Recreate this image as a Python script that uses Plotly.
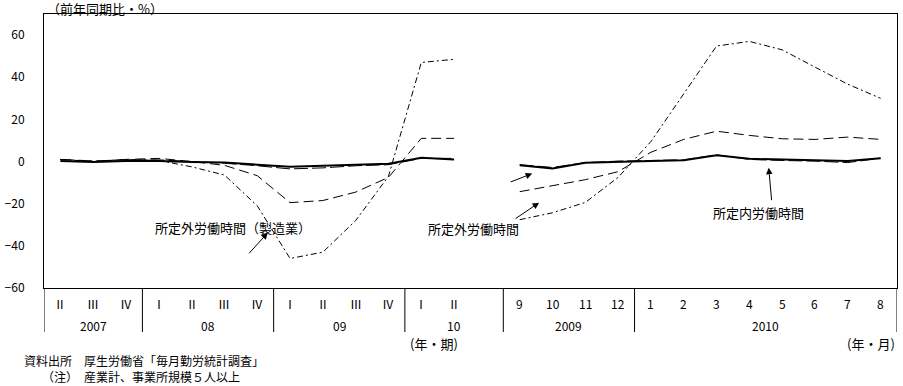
import plotly.graph_objects as go

# ---------------- data ----------------
quarter_labels = ["Ⅱ", "Ⅲ", "Ⅳ", "Ⅰ", "Ⅱ", "Ⅲ", "Ⅳ", "Ⅰ", "Ⅱ", "Ⅲ", "Ⅳ", "Ⅰ", "Ⅱ"]
quarter_years = ["2007", "08", "09", "10"]
month_labels = ["9", "10", "11", "12", "1", "2", "3", "4", "5", "6", "7", "8"]
month_years = ["2009", "2010"]

# quarterly (2007 II - 2010 II), YoY %
q_total = [1.0, 0.3, 0.8, 0.8, 0.0, -0.8, -2.0, -3.5, -3.0, -2.0, -1.5, 1.5, 1.5]
q_scheduled = [0.3, -0.2, 0.3, 0.3, -0.2, -0.5, -1.5, -2.5, -2.0, -1.5, -1.0, 1.8, 1.0]
q_overtime = [1.0, 0.0, 1.0, 1.5, 0.0, -1.8, -6.7, -19.5, -18.5, -14.5, -7.5, 11.0, 11.0]
q_overtime_mfg = [1.0, 0.0, 1.0, 0.5, -2.5, -6.4, -21.0, -46.0, -43.0, -28.0, -7.0, 47.0, 48.5]

# monthly (2009.9 - 2010.8), YoY %
m_total = [-1.5, -2.8, -0.5, 0.2, 0.5, 0.8, 3.2, 1.0, 0.5, 0.2, -0.5, 1.6]
m_scheduled = [-1.8, -3.3, -0.6, 0.0, 0.3, 0.6, 3.0, 1.3, 0.8, 0.6, 0.2, 1.6]
m_overtime = [-14.3, -11.4, -8.6, -4.8, 4.4, 10.5, 14.4, 12.4, 10.8, 10.5, 11.6, 10.5]
m_overtime_mfg = [-27.6, -24.3, -19.4, -7.5, 9.5, 32.0, 54.8, 57.0, 53.0, 44.8, 36.7, 30.0]

y_ticks = [-60, -40, -20, 0, 20, 40, 60]

# ---------------- build positions ----------------
nq = len(quarter_labels)
nm = len(month_labels)
xq = list(range(nq))
xm = list(range(nq + 1, nq + 1 + nm))
x_all = xq + [nq] + xm


def join(q, m):
    return q + [None] + m


FONT = "Noto Sans CJK JP, Noto Sans, sans-serif"
JP = dict(size=13, family=FONT, color="black")
NUM = dict(size=12, family=FONT, color="black")
NOTE = dict(size=12, family=FONT, color="black")

fig = go.Figure()
series = [
    ("総実労働時間", q_total, m_total, dict(color="black", width=1, dash="14px,4px")),
    ("所定外労働時間（製造業）", q_overtime_mfg, m_overtime_mfg, dict(color="black", width=1, dash="6px,3px,2px,3px")),
    ("所定外労働時間", q_overtime, m_overtime, dict(color="black", width=1, dash="10px,5px")),
    ("所定内労働時間", q_scheduled, m_scheduled, dict(color="black", width=2)),
]
for name, q, m, line in series:
    fig.add_trace(go.Scatter(x=x_all, y=join(q, m), mode="lines", name=name,
                             line=line, connectgaps=False, showlegend=False, hoverinfo="skip"))

annotations = []
# category row 1
for i, lab in enumerate(quarter_labels):
    annotations.append(dict(x=xq[i], y=0, xref="x", yref="paper", text=lab, showarrow=False,
                            yanchor="middle", yshift=-15, font=NUM))
for i, lab in enumerate(month_labels):
    annotations.append(dict(x=xm[i], y=0, xref="x", yref="paper", text=lab, showarrow=False,
                            yanchor="middle", yshift=-15, font=NUM))
# category row 2 (years)
year_centers = [1, 4.5, 8.5, 12, 15.5, 21.5]
for lab, xc in zip(quarter_years + month_years, year_centers):
    annotations.append(dict(x=xc, y=0, xref="x", yref="paper", text=lab, showarrow=False,
                            yanchor="middle", yshift=-37, font=NUM))

annotations += [
    dict(x=0, y=1, xref="paper", yref="paper", text="（前年同期比・%）", showarrow=False,
         xanchor="left", yanchor="middle", xshift=1, yshift=6, font=JP),
    dict(x=(458 - 40) / 858, y=0, xref="paper", yref="paper", text="(年・期)", showarrow=False,
         xanchor="right", yanchor="middle", yshift=-55, font=JP),
    dict(x=1, y=0, xref="paper", yref="paper", text="(年・月)", showarrow=False,
         xanchor="right", yanchor="middle", yshift=-55, font=JP),
    dict(x=0, y=0, xref="paper", yref="paper",
         text="資料出所　厚生労働省「毎月勤労統計調査」<br>\u3000\u2002（注）　産業計、事業所規模５人以上",
         showarrow=False, align="left", xanchor="left", yanchor="middle", xshift=-21, yshift=-80,
         borderpad=0, font=NOTE),
    # series labels
    dict(x=5.26, y=-31.4, xref="x", yref="y", text="所定外労働時間（製造業）", showarrow=False, font=JP),
    dict(x=12.58, y=-31.9, xref="x", yref="y", text="所定外労働時間", showarrow=False, font=JP),
    dict(x=21.28, y=-24.3, xref="x", yref="y", text="所定内労働時間", showarrow=False, font=JP),
    # arrows
    dict(x=6.32, y=-33.8, xref="x", yref="y", ax=-20, ay=22, text="", showarrow=True,
         arrowhead=2, arrowsize=1.3, arrowwidth=1, arrowcolor="black"),
    dict(x=14.59, y=-19.5, xref="x", yref="y", ax=-25, ay=17, text="", showarrow=True,
         arrowhead=2, arrowsize=1.3, arrowwidth=1, arrowcolor="black"),
    dict(x=14.38, y=-5.7, xref="x", yref="y", ax=-23, ay=9, text="", showarrow=True,
         arrowhead=2, arrowsize=1.3, arrowwidth=1, arrowcolor="black"),
    dict(x=21.59, y=-2.9, xref="x", yref="y", ax=3, ay=34, text="", showarrow=True,
         arrowhead=2, arrowsize=1.3, arrowwidth=1, arrowcolor="black"),
]

shapes = []
for xs in [-0.5, 2.5, 6.5, 10.5, 13.5, 17.5, 25.5]:
    shapes.append(dict(type="line", xref="x", yref="paper", x0=xs, x1=xs, y0=0, y1=-44 / 274,
                       line=dict(color="black", width=1)))

fig.update_layout(
    width=903, height=386,
    margin=dict(l=40, r=5, t=14, b=98),
    paper_bgcolor="white", plot_bgcolor="white",
    font=dict(family=FONT, size=12, color="black"),
    annotations=annotations, shapes=shapes,
    hovermode=False,
    xaxis=dict(range=[-0.5, 25.5], showticklabels=False, showgrid=False, zeroline=False,
               showline=True, mirror=True, linecolor="black", linewidth=1, ticks=""),
    yaxis=dict(range=[-60, 70], tickvals=y_ticks, showgrid=False, zeroline=False,
               showline=True, mirror=True, linecolor="black", linewidth=1, ticks="",
               ticklabelstandoff=16, tickfont=NUM),
)

fig.write_html("out.html", config={"displayModeBar": False},
               post_script="document.body.style.margin='0';document.body.style.overflow='hidden';")
